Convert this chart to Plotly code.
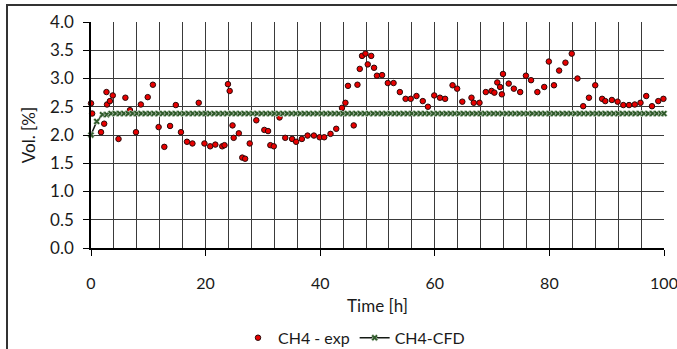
import plotly.graph_objects as go

# Experimental CH4 concentration (time [h], vol. [%])
exp_time = [0.0, 0.2, 1.75, 2.3, 2.7, 2.8, 3.3, 3.8, 4.8, 6.0, 6.8, 7.85, 8.7, 9.9, 10.8,
            11.8, 12.8, 13.8, 14.8, 15.7, 16.75, 17.7, 18.8, 19.8, 20.8, 21.7, 22.9, 23.3,
            23.9, 24.2, 24.7, 24.9, 25.8, 26.4, 26.9, 27.7, 28.85, 30.25, 30.9, 31.3, 31.9,
            32.9, 33.9, 35.1, 35.8, 36.8, 37.8, 38.9, 39.9, 40.7, 41.8, 42.8, 43.8, 44.4,
            44.85, 45.85, 46.5, 46.9, 47.3, 47.9, 48.3, 48.9, 49.4, 49.9, 50.8, 51.8, 52.8,
            53.9, 54.9, 55.8, 56.8, 57.9, 58.8, 59.9, 60.9, 61.8, 63.1, 63.9, 64.8, 66.4,
            66.8, 67.8, 68.9, 69.9, 70.4, 70.9, 71.4, 71.7, 71.9, 72.9, 73.8, 74.9, 75.9,
            76.8, 77.9, 79.1, 79.9, 80.8, 81.7, 82.8, 83.9, 84.9, 85.9, 86.9, 88.0, 89.2,
            89.75, 90.9, 91.9, 92.9, 93.9, 94.9, 95.9, 96.9, 97.9, 99.0, 99.9]
exp_vol = [2.56, 2.38, 2.05, 2.20, 2.76, 2.54, 2.60, 2.70, 1.93, 2.66, 2.44, 2.05, 2.54, 2.67, 2.89,
           2.14, 1.79, 2.16, 2.53, 2.05, 1.88, 1.85, 2.57, 1.85, 1.80, 1.83, 1.80, 1.82,
           2.90, 2.78, 2.17, 1.95, 2.03, 1.60, 1.58, 1.85, 2.26, 2.09, 2.07, 1.82, 1.80,
           2.31, 1.95, 1.93, 1.88, 1.93, 1.99, 1.99, 1.96, 1.96, 2.02, 2.11, 2.48, 2.57,
           2.87, 2.17, 2.89, 3.17, 3.40, 3.44, 3.25, 3.40, 3.19, 3.05, 3.06, 2.92, 2.92,
           2.76, 2.64, 2.64, 2.69, 2.60, 2.50, 2.70, 2.66, 2.64, 2.88, 2.82, 2.59, 2.66,
           2.57, 2.57, 2.76, 2.78, 2.75, 2.93, 2.85, 2.72, 3.08, 2.91, 2.82, 2.76, 3.05,
           2.97, 2.76, 2.85, 3.30, 2.88, 3.14, 3.28, 3.44, 3.00, 2.51, 2.66, 2.88, 2.64,
           2.60, 2.62, 2.59, 2.53, 2.53, 2.54, 2.57, 2.69, 2.51, 2.60, 2.64]

# CFD result
cfd_time = [0, 1, 2, 2.75,
            3.5, 4.25, 5, 5.75, 6.5, 7.25, 8, 8.75,
            9.5, 10.25, 11, 11.75, 12.5, 13.25, 14, 14.75,
            15.5, 16.25, 17, 17.75, 18.5, 19.25, 20, 20.75,
            21.5, 22.25, 23, 23.75, 24.5, 25.25, 26, 26.75,
            27.5, 28.25, 29, 29.75, 30.5, 31.25, 32, 32.75,
            33.5, 34.25, 35, 35.75, 36.5, 37.25, 38, 38.75,
            39.5, 40.25, 41, 41.75, 42.5, 43.25, 44, 44.75,
            45.5, 46.25, 47, 47.75, 48.5, 49.25, 50, 50.75,
            51.5, 52.25, 53, 53.75, 54.5, 55.25, 56, 56.75,
            57.5, 58.25, 59, 59.75, 60.5, 61.25, 62, 62.75,
            63.5, 64.25, 65, 65.75, 66.5, 67.25, 68, 68.75,
            69.5, 70.25, 71, 71.75, 72.5, 73.25, 74, 74.75,
            75.5, 76.25, 77, 77.75, 78.5, 79.25, 80, 80.75,
            81.5, 82.25, 83, 83.75, 84.5, 85.25, 86, 86.75,
            87.5, 88.25, 89, 89.75, 90.5, 91.25, 92, 92.75,
            93.5, 94.25, 95, 95.75, 96.5, 97.25, 98, 98.75,
            99.5, 100]
cfd_vol = [2.00, 2.24, 2.36, 2.36,
           2.38, 2.38, 2.38, 2.38, 2.38, 2.38, 2.38, 2.38,
           2.38, 2.38, 2.38, 2.38, 2.38, 2.38, 2.38, 2.38,
           2.38, 2.38, 2.38, 2.38, 2.38, 2.38, 2.38, 2.38,
           2.38, 2.38, 2.38, 2.38, 2.38, 2.38, 2.38, 2.38,
           2.38, 2.38, 2.38, 2.38, 2.38, 2.38, 2.38, 2.38,
           2.38, 2.38, 2.38, 2.38, 2.38, 2.38, 2.38, 2.38,
           2.38, 2.38, 2.38, 2.38, 2.38, 2.38, 2.38, 2.38,
           2.38, 2.38, 2.38, 2.38, 2.38, 2.38, 2.38, 2.38,
           2.38, 2.38, 2.38, 2.38, 2.38, 2.38, 2.38, 2.38,
           2.38, 2.38, 2.38, 2.38, 2.38, 2.38, 2.38, 2.38,
           2.38, 2.38, 2.38, 2.38, 2.38, 2.38, 2.38, 2.38,
           2.38, 2.38, 2.38, 2.38, 2.38, 2.38, 2.38, 2.38,
           2.38, 2.38, 2.38, 2.38, 2.38, 2.38, 2.38, 2.38,
           2.38, 2.38, 2.38, 2.38, 2.38, 2.38, 2.38, 2.38,
           2.38, 2.38, 2.38, 2.38, 2.38, 2.38, 2.38, 2.38,
           2.38, 2.38, 2.38, 2.38, 2.38, 2.38, 2.38, 2.38,
           2.38, 2.38]

x_ticks = [0, 20, 40, 60, 80, 100]
y_ticks = [0.0, 0.5, 1.0, 1.5, 2.0, 2.5, 3.0, 3.5, 4.0]

FONT = "Lato, 'Open Sans', sans-serif"
GRID = "#3a3a3a"

fig = go.Figure()
fig.add_trace(go.Scatter(
    x=exp_time, y=exp_vol, mode="markers", name="CH4 - exp",
    marker=dict(symbol="circle", size=5.5, color="#e80000",
                line=dict(color="#2a0a0a", width=1)),
    cliponaxis=False,
))
fig.add_trace(go.Scatter(
    x=cfd_time, y=cfd_vol, mode="lines+markers", name="CH4-CFD",
    line=dict(color="#141a14", width=1.5),
    marker=dict(symbol="x", size=6, color="#2f5a2a",
                line=dict(color="#e4ece2", width=0.6)),
    cliponaxis=False,
))

fig.update_layout(
    width=677, height=349,
    margin=dict(l=91, r=13, t=22, b=101, autoexpand=False),
    paper_bgcolor="white", plot_bgcolor="white",
    font=dict(family=FONT, size=17, color="#1a1a1a"),
    showlegend=True,
    legend=dict(orientation="h", x=0.459, xanchor="center",
                yref="container", y=0.032, yanchor="middle",
                font=dict(size=16), bgcolor="rgba(0,0,0,0)", itemwidth=30,
                tracegroupgap=0),
    xaxis=dict(
        range=[0, 100], tickvals=x_ticks, ticktext=[str(v) for v in x_ticks],
        showgrid=True, gridcolor=GRID, gridwidth=1,
        minor=dict(dtick=4, tick0=0, showgrid=True, gridcolor=GRID, gridwidth=1),
        showline=True, linecolor="#000000", linewidth=1.5,
        ticks="outside", ticklen=6, tickcolor="#000000", tickwidth=1,
        ticklabelstandoff=14, ticklabeloverflow="allow", zeroline=False, automargin=False,
        tickfont=dict(size=16),
        title=dict(text="Time [h]", font=dict(size=17), standoff=9),
    ),
    yaxis=dict(
        range=[0, 4.0], tickvals=y_ticks, ticktext=[f"{v:.1f}" for v in y_ticks],
        showgrid=True, gridcolor=GRID, gridwidth=1,
        showline=True, linecolor="#000000", linewidth=1.5,
        ticks="outside", ticklen=6, tickcolor="#000000", tickwidth=1,
        ticklabelstandoff=6, zeroline=False, automargin=False,
        tickfont=dict(size=17),
        title=dict(text="Vol. [%]", font=dict(size=17), standoff=10),
    ),
    shapes=[dict(type="rect", xref="paper", yref="paper",
                 x0=(7 - 91) / 573, x1=(700 - 91) / 573,
                 y0=-0.8, y1=1 + (22 - 5) / 226,
                 line=dict(color="#333333", width=2), fillcolor="rgba(0,0,0,0)",
                 layer="below")],
)

fig.write_html("out.html")
